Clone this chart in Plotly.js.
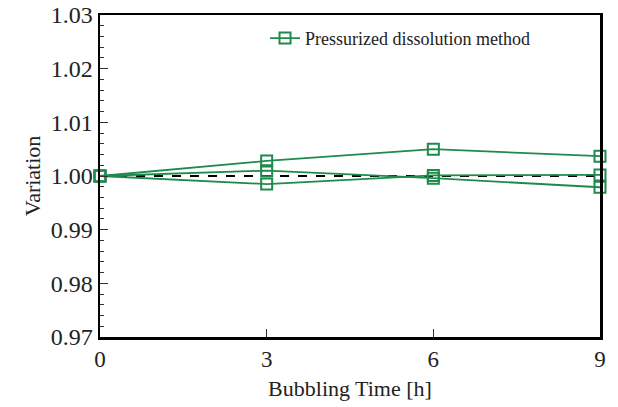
<!DOCTYPE html>
<html><head><meta charset="utf-8">
<script src="https://cdn.plot.ly/plotly-3.0.1.min.js"></script>
<style>html,body{margin:0;padding:0;background:#fff}#c{width:618px;height:407px}</style>
</head><body><div id="c"></div>
<script>
const hours = [0, 3, 6, 9];
const seriesA = [1.0000, 1.0028, 1.0050, 1.0037];
const seriesB = [1.0000, 1.0010, 0.9996, 0.9979];
const seriesC = [1.0000, 0.9985, 1.0001, 1.0002];
const reference = [1.0, 1.0, 1.0, 1.0];
const legendName = 'Pressurized dissolution method';
const green = '#1e8a4c';

function s(y, show) {
  return {x: hours, y: y, type: 'scatter', mode: 'lines+markers', name: legendName,
    showlegend: show, cliponaxis: false,
    line: {color: green, width: 1.8},
    marker: {symbol: 'square-open', size: 11, color: green, line: {width: 2, color: green}}};
}
const data = [
  {x: hours, y: reference, type: 'scatter', mode: 'lines', showlegend: false,
   line: {color: '#000', width: 1.8, dash: 'dash'}},
  s(seriesA, true), s(seriesB, false), s(seriesC, false)
];
const fam = 'Liberation Serif';
const tc = '#222';
const layout = {
  width: 618, height: 407,
  margin: {l: 100, r: 18, t: 15, b: 70},
  paper_bgcolor: '#fff', plot_bgcolor: '#fff',
  font: {family: fam, color: tc},
  showlegend: true,
  legend: {x: 0.33, y: 0.985, xanchor: 'left', yanchor: 'top', bgcolor: 'rgba(0,0,0,0)',
    font: {family: fam, size: 18, color: tc}},
  xaxis: {range: [0, 9], tickvals: hours, ticks: 'inside', ticklen: 8, tickwidth: 1,
    tickcolor: '#333', showline: true, linecolor: '#000', linewidth: 2.5, mirror: true,
    showgrid: false, zeroline: false, tickfont: {size: 23, family: fam, color: tc},
    title: {text: 'Bubbling Time [h]', font: {size: 22, family: fam, color: tc}, standoff: 10}},
  yaxis: {range: [0.97, 1.03], dtick: 0.01, tick0: 0.97, tickformat: '.2f', ticks: 'inside',
    ticklen: 8, tickwidth: 1, tickcolor: '#333', showline: true, linecolor: '#000', linewidth: 2.5,
    mirror: true, showgrid: false, zeroline: false,
    minor: {dtick: 0.002, ticks: 'inside', ticklen: 4, tickcolor: '#333', showgrid: false},
    tickfont: {size: 24, family: fam, color: tc},
    title: {text: 'Variation', font: {size: 22, family: fam, color: tc}, standoff: 4}}
};
Plotly.newPlot('c', data, layout, {staticPlot: true, displayModeBar: false});
</script></body></html>
